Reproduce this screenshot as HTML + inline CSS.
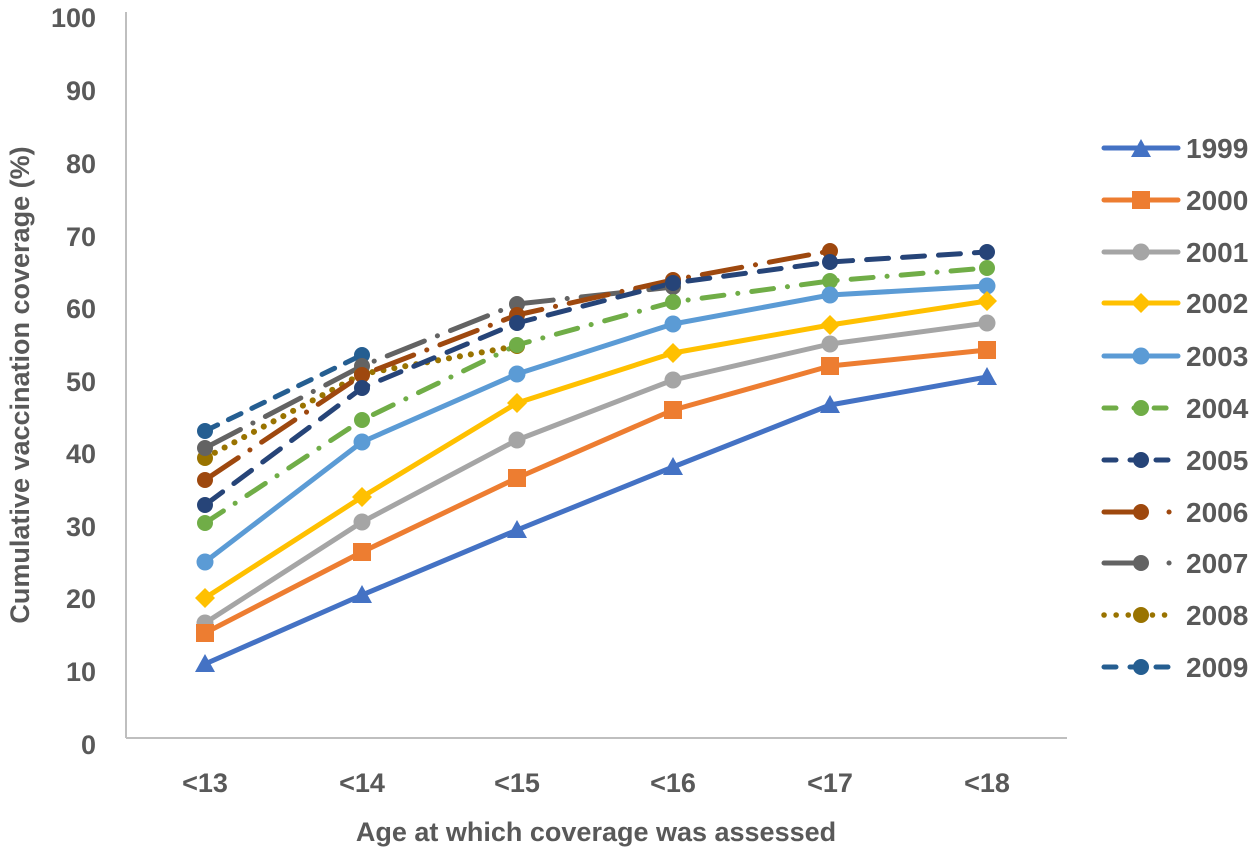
<!DOCTYPE html>
<html><head><meta charset="utf-8"><style>
body{margin:0;background:#fff}
svg{display:block}
text{font-family:"Liberation Sans",sans-serif;font-weight:bold;fill:#595959}
</style></head><body>
<svg width="1259" height="853" viewBox="0 0 1259 853" xmlns="http://www.w3.org/2000/svg">
<line x1="126" y1="12" x2="126" y2="738" stroke="#bfbfbf" stroke-width="2"/>
<line x1="126" y1="738" x2="1067" y2="738" stroke="#bfbfbf" stroke-width="2"/>
<g font-size="27" text-anchor="end">
<text x="96" y="27">100</text><text x="96" y="100">90</text><text x="96" y="173">80</text>
<text x="96" y="246">70</text><text x="96" y="318">60</text><text x="96" y="391">50</text>
<text x="96" y="463">40</text><text x="96" y="536">30</text><text x="96" y="608">20</text>
<text x="96" y="681">10</text><text x="96" y="754">0</text>
</g>
<g font-size="27" text-anchor="middle">
<text x="205" y="792">&lt;13</text><text x="362" y="792">&lt;14</text><text x="517" y="792">&lt;15</text>
<text x="673" y="792">&lt;16</text><text x="830" y="792">&lt;17</text><text x="987" y="792">&lt;18</text>
<text x="596" y="841" font-size="27">Age at which coverage was assessed</text>
<text transform="translate(29,385) rotate(-90)" font-size="27">Cumulative vaccination coverage (%)</text>
</g>
<g fill="none" stroke-width="5" stroke-linecap="round" stroke-linejoin="round">
<polyline stroke="#255E91" stroke-dasharray="14 12" points="205,431 362,355"/>
<polyline stroke="#997300" stroke-dasharray="0.1 11" stroke-width="6" points="205,458 362,374 517,346"/>
<polyline stroke="#636363" stroke-dasharray="40 14 0.1 14" points="205,448 362,366 517,304 673,287"/>
<polyline stroke="#9E480E" stroke-dasharray="40 14 0.1 14" points="205,480 362,375 517,315 673,280 830,251"/>
<polyline stroke="#264478" stroke-dasharray="22 14" points="205,505 362,388 517,323 673,283 830,262 987,252"/>
<polyline stroke="#70AD47" stroke-dasharray="22 14 0.1 14" points="205,523 362,420 517,345 673,302 830,281 987,268"/>
<polyline stroke="#5B9BD5" points="205,562 362,442 517,374 673,324 830,295 987,286"/>
<polyline stroke="#FFC000" points="205,598 362,497 517,403 673,353 830,325 987,301"/>
<polyline stroke="#A5A5A5" points="205,623 362,522 517,440 673,380 830,344 987,323"/>
<polyline stroke="#ED7D31" points="205,633 362,552 517,478 673,410 830,366 987,350"/>
<polyline stroke="#4472C4" points="205,664 362,595 517,530 673,467 830,405 987,377"/>
</g>
<g>
<g fill="#255E91"><circle cx="205" cy="431" r="8"/><circle cx="362" cy="355" r="8"/></g>
<g fill="#997300"><circle cx="205" cy="458" r="8"/><circle cx="362" cy="374" r="8"/><circle cx="517" cy="346" r="8"/></g>
<g fill="#636363"><circle cx="205" cy="448" r="8"/><circle cx="362" cy="366" r="8"/><circle cx="517" cy="304" r="8"/><circle cx="673" cy="287" r="8"/></g>
<g fill="#9E480E"><circle cx="205" cy="480" r="8"/><circle cx="362" cy="375" r="8"/><circle cx="517" cy="315" r="8"/><circle cx="673" cy="280" r="8"/><circle cx="830" cy="251" r="8"/></g>
<g fill="#264478"><circle cx="205" cy="505" r="8"/><circle cx="362" cy="388" r="8"/><circle cx="517" cy="323" r="8"/><circle cx="673" cy="283" r="8"/><circle cx="830" cy="262" r="8"/><circle cx="987" cy="252" r="8"/></g>
<g fill="#70AD47"><circle cx="205" cy="523" r="8"/><circle cx="362" cy="420" r="8"/><circle cx="517" cy="345" r="8"/><circle cx="673" cy="302" r="8"/><circle cx="830" cy="281" r="8"/><circle cx="987" cy="268" r="8"/></g>
<g fill="#5B9BD5"><circle cx="205" cy="562" r="8.5"/><circle cx="362" cy="442" r="8.5"/><circle cx="517" cy="374" r="8.5"/><circle cx="673" cy="324" r="8.5"/><circle cx="830" cy="295" r="8.5"/><circle cx="987" cy="286" r="8.5"/></g>
<g fill="#FFC000"><path d="M205,588l10,10l-10,10l-10,-10z"/><path d="M362,487l10,10l-10,10l-10,-10z"/><path d="M517,393l10,10l-10,10l-10,-10z"/><path d="M673,343l10,10l-10,10l-10,-10z"/><path d="M830,315l10,10l-10,10l-10,-10z"/><path d="M987,291l10,10l-10,10l-10,-10z"/></g>
<g fill="#A5A5A5"><circle cx="205" cy="623" r="8.5"/><circle cx="362" cy="522" r="8.5"/><circle cx="517" cy="440" r="8.5"/><circle cx="673" cy="380" r="8.5"/><circle cx="830" cy="344" r="8.5"/><circle cx="987" cy="323" r="8.5"/></g>
<g fill="#ED7D31"><rect x="196" y="624" width="18" height="18"/><rect x="353" y="543" width="18" height="18"/><rect x="508" y="469" width="18" height="18"/><rect x="664" y="401" width="18" height="18"/><rect x="821" y="357" width="18" height="18"/><rect x="978" y="341" width="18" height="18"/></g>
<g fill="#4472C4"><path d="M205,654l10,18h-20z"/><path d="M362,585l10,18h-20z"/><path d="M517,520l10,18h-20z"/><path d="M673,457l10,18h-20z"/><path d="M830,395l10,18h-20z"/><path d="M987,367l10,18h-20z"/></g>
</g>
<g stroke-width="5" stroke-linecap="round" fill="none">
<line x1="1104" y1="148" x2="1178" y2="148" stroke="#4472C4"/>
<line x1="1104" y1="200" x2="1178" y2="200" stroke="#ED7D31"/>
<line x1="1104" y1="252" x2="1178" y2="252" stroke="#A5A5A5"/>
<line x1="1104" y1="303" x2="1178" y2="303" stroke="#FFC000"/>
<line x1="1104" y1="356" x2="1178" y2="356" stroke="#5B9BD5"/>
<line x1="1104" y1="408" x2="1178" y2="408" stroke="#70AD47" stroke-dasharray="12 18 0.1 20"/>
<line x1="1104" y1="460" x2="1168" y2="460" stroke="#264478" stroke-dasharray="12 14"/>
<line x1="1104" y1="512" x2="1178" y2="512" stroke="#9E480E" stroke-dasharray="40 25 0.1 20"/>
<line x1="1104" y1="563" x2="1178" y2="563" stroke="#636363" stroke-dasharray="40 25 0.1 20"/>
<line x1="1104" y1="615" x2="1170" y2="615" stroke="#997300" stroke-dasharray="0.1 12" stroke-width="5.5"/>
<line x1="1104" y1="667" x2="1168" y2="667" stroke="#255E91" stroke-dasharray="12 14"/>
</g>
<path d="M1141,139l10,18h-20z" fill="#4472C4"/>
<rect x="1132" y="191" width="18" height="18" fill="#ED7D31"/>
<circle cx="1141" cy="252" r="8.5" fill="#A5A5A5"/>
<path d="M1141,293l10,10l-10,10l-10,-10z" fill="#FFC000"/>
<circle cx="1141" cy="356" r="8.5" fill="#5B9BD5"/>
<circle cx="1141" cy="408" r="8" fill="#70AD47"/>
<circle cx="1141" cy="460" r="8" fill="#264478"/>
<circle cx="1141" cy="512" r="8" fill="#9E480E"/>
<circle cx="1141" cy="563" r="8" fill="#636363"/>
<circle cx="1141" cy="615" r="8" fill="#997300"/>
<circle cx="1141" cy="667" r="8" fill="#255E91"/>
<g font-size="28">
<text x="1186" y="158">1999</text><text x="1186" y="210">2000</text><text x="1186" y="262">2001</text>
<text x="1186" y="313">2002</text><text x="1186" y="366">2003</text><text x="1186" y="418">2004</text>
<text x="1186" y="470">2005</text><text x="1186" y="522">2006</text><text x="1186" y="573">2007</text>
<text x="1186" y="625">2008</text><text x="1186" y="677">2009</text>
</g>
</svg>
</body></html>
